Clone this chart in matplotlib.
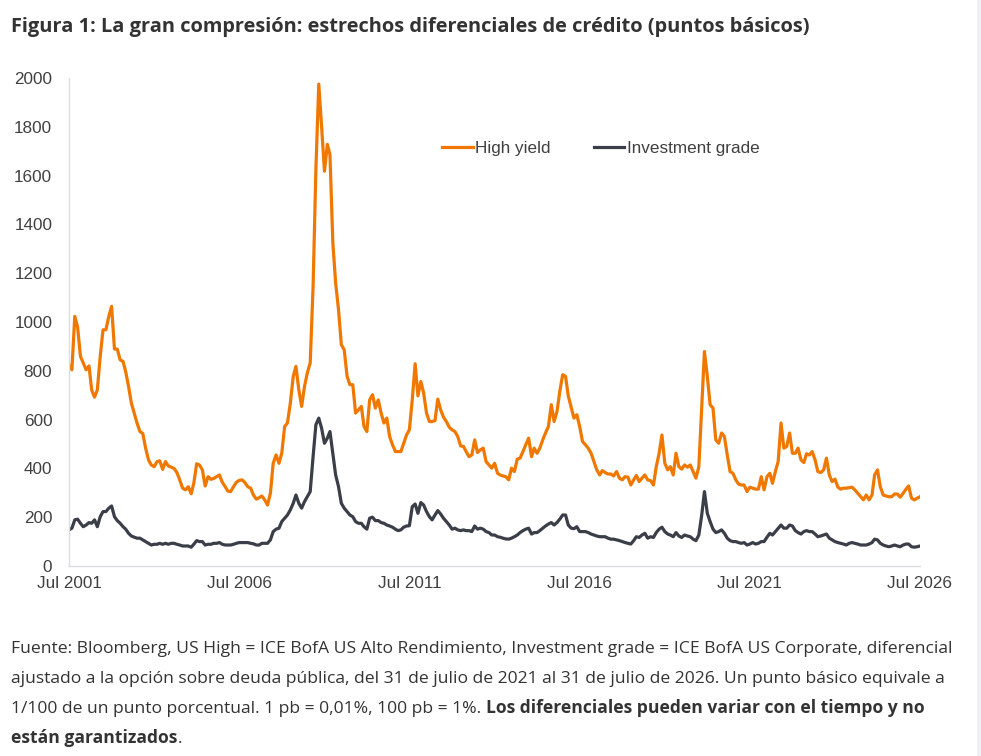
import numpy as np
import matplotlib
matplotlib.use("Agg")
import matplotlib.pyplot as plt
import matplotlib.dates as mdates
from matplotlib.patches import Rectangle

# Monthly spreads in basis points, Jul 2001 .. Jul 2026
fechas = np.arange("2001-07", "2026-08", dtype="datetime64[M]")

high_yield = [
    825, 804, 1023, 980, 859, 832, 804, 820, 722, 692, 722, 859,
    968, 968, 1023, 1064, 889, 889, 845, 838, 797, 736, 668, 627,
    586, 551, 543, 483, 435, 414, 407, 428, 431, 396, 428, 410,
    405, 400, 383, 353, 319, 312, 325, 296, 339, 419, 414, 394,
    328, 366, 355, 359, 366, 373, 343, 325, 307, 305, 325, 343,
    351, 353, 342, 325, 319, 291, 274, 280, 287, 271, 250, 298,
    421, 455, 421, 462, 572, 586, 668, 777, 818, 722, 654, 736,
    791, 832, 1146, 1625, 1975, 1803, 1618, 1728, 1686, 1324, 1160, 1050,
    907, 886, 777, 743, 743, 627, 640, 654, 572, 551, 681, 702,
    647, 681, 627, 586, 606, 531, 497, 469, 469, 469, 503, 537,
    558, 681, 829, 697, 756, 709, 627, 592, 592, 596, 684, 640,
    610, 592, 569, 558, 551, 531, 492, 490, 469, 448, 455, 517,
    465, 476, 483, 428, 414, 401, 421, 380, 373, 369, 366, 353,
    401, 387, 438, 442, 469, 497, 524, 448, 483, 462, 483, 517,
    545, 572, 661, 592, 633, 715, 784, 777, 697, 650, 606, 620,
    572, 510, 497, 483, 462, 428, 394, 373, 391, 383, 377, 377,
    369, 387, 360, 353, 366, 364, 332, 353, 371, 346, 360, 373,
    353, 350, 332, 407, 462, 537, 421, 394, 407, 373, 462, 407,
    397, 414, 405, 414, 387, 360, 407, 654, 879, 777, 661, 647,
    517, 503, 545, 531, 455, 387, 380, 353, 336, 332, 332, 305,
    323, 319, 315, 315, 366, 312, 366, 380, 339, 387, 428, 586,
    483, 490, 545, 462, 462, 483, 435, 424, 460, 455, 469, 435,
    387, 383, 394, 442, 373, 346, 356, 323, 315, 319, 319, 321,
    323, 312, 298, 284, 271, 291, 271, 291, 373, 394, 325, 291,
    287, 284, 284, 295, 295, 282, 298, 315, 328, 278, 271, 278,
    284,
]

investment_grade = [
    148, 155, 189, 192, 175, 161, 168, 178, 175, 189, 161, 202,
    223, 223, 237, 246, 202, 186, 175, 161, 151, 134, 123, 118,
    114, 114, 107, 100, 93, 86, 89, 89, 93, 89, 93, 89,
    93, 93, 89, 86, 82, 82, 82, 77, 89, 104, 100, 100,
    86, 89, 89, 93, 93, 96, 89, 86, 86, 86, 89, 93,
    96, 96, 96, 96, 93, 91, 86, 86, 93, 93, 93, 107,
    141, 151, 155, 182, 196, 209, 230, 257, 291, 257, 237, 264,
    284, 305, 448, 579, 606, 565, 503, 524, 551, 462, 373, 325,
    257, 237, 223, 209, 202, 182, 175, 175, 161, 151, 196, 200,
    186, 186, 178, 175, 168, 164, 159, 151, 145, 148, 159, 164,
    165, 243, 254, 216, 260, 250, 223, 202, 189, 209, 227, 213,
    196, 182, 168, 151, 155, 148, 145, 148, 145, 145, 141, 164,
    151, 155, 151, 141, 137, 127, 127, 120, 118, 114, 111, 110,
    114, 120, 127, 137, 145, 151, 155, 131, 137, 137, 145, 155,
    164, 172, 178, 168, 178, 192, 209, 209, 168, 155, 153, 161,
    141, 141, 141, 137, 131, 127, 123, 120, 120, 120, 114, 110,
    110, 107, 104, 100, 96, 93, 90, 104, 120, 117, 127, 134,
    114, 120, 117, 137, 151, 159, 141, 131, 127, 120, 137, 123,
    117, 127, 123, 120, 110, 104, 127, 209, 305, 216, 182, 151,
    137, 141, 148, 134, 114, 104, 100, 100, 96, 93, 96, 86,
    90, 96, 90, 93, 100, 100, 118, 134, 127, 141, 155, 168,
    155, 155, 168, 164, 145, 137, 131, 141, 145, 141, 141, 131,
    120, 123, 127, 131, 114, 107, 100, 96, 93, 90, 86, 93,
    96, 93, 90, 86, 86, 86, 90, 96, 110, 107, 93, 86,
    82, 79, 82, 86, 82, 79, 86, 90, 90, 79, 77, 79,
    82,
]

y_ticks = [0, 200, 400, 600, 800, 1000, 1200, 1400, 1600, 1800, 2000]

titulo = "Figura 1: La gran compresión: estrechos diferenciales de crédito (puntos básicos)"
nota_lineas = [
    "Fuente: Bloomberg, US High = ICE BofA US Alto Rendimiento, Investment grade = ICE BofA US Corporate, diferencial",
    "ajustado a la opción sobre deuda pública, del 31 de julio de 2021 al 31 de julio de 2026. Un punto básico equivale a",
]
nota_l3_normal = "1/100 de un punto porcentual. 1 pb = 0,01%, 100 pb = 1%. "
nota_l3_bold = "Los diferenciales pueden variar con el tiempo y no"
nota_l4_bold = "están garantizados"
nota_l4_normal = "."

NARANJA = "#f07800"
GRIS_OSCURO = "#3a3e48"
TEXTO = "#404040"
NOTA = "#333333"
TAM_NOTA = 12.6

W, H = 981, 756
fig = plt.figure(figsize=(W / 100, H / 100), dpi=100, facecolor="white")

# axes placed by pixel measurements of the reference
izq, der, arriba, abajo = 69, 920, 78, 566
ax = fig.add_axes([izq / W, 1 - abajo / H, (der - izq) / W, (abajo - arriba) / H])

ax.plot(fechas, high_yield, color=NARANJA, lw=2.3, label="High yield", solid_joinstyle="round")
ax.plot(fechas, investment_grade, color=GRIS_OSCURO, lw=2.3, label="Investment grade", solid_joinstyle="round")

ax.set_ylim(0, 2000)
ax.set_yticks(y_ticks)
ax.set_xlim(fechas[0], fechas[-1])
ax.set_xticks(fechas[::60])
ax.xaxis.set_major_formatter(mdates.DateFormatter("%b %Y"))

for lbl in ax.get_xticklabels() + ax.get_yticklabels():
    lbl.set_family("Liberation Sans")
    lbl.set_fontsize(12.3)
    lbl.set_color(TEXTO)
ax.tick_params(axis="both", length=0)
ax.tick_params(axis="y", pad=12)
ax.tick_params(axis="x", pad=7)

for lado in ["top", "right"]:
    ax.spines[lado].set_visible(False)
ax.spines["left"].set_color("#dcdce4")
ax.spines["bottom"].set_color("#dcdce4")
ax.spines["left"].set_linewidth(1.0)
ax.spines["bottom"].set_linewidth(1.0)

leg = ax.legend(loc="center left", bbox_to_anchor=((442 - izq) / (der - izq), (abajo - 148) / (abajo - arriba)),
                ncol=2, frameon=False, borderpad=0, borderaxespad=0,
                handlelength=1.8, handletextpad=0.15, columnspacing=2.5,
                prop={"family": "Liberation Sans", "size": 12.3})
for t in leg.get_texts():
    t.set_color(TEXTO)

fig.text(11 / W, 1 - 32 / H, titulo, fontsize=14.4, fontweight="bold", family="Open Sans",
         color="#333333", ha="left", va="baseline")

# footnote lines
base_y = [653, 683, 713, 743]
for i, linea in enumerate(nota_lineas):
    fig.text(11 / W, 1 - base_y[i] / H, linea, fontsize=TAM_NOTA, family="Open Sans",
             color=NOTA, ha="left", va="baseline")

fig.canvas.draw()
rend = fig.canvas.get_renderer()

t3 = fig.text(11 / W, 1 - base_y[2] / H, nota_l3_normal, fontsize=TAM_NOTA, family="Open Sans",
              color=NOTA, ha="left", va="baseline")
ancho3 = t3.get_window_extent(renderer=rend).width
fig.text((11 + ancho3) / W, 1 - base_y[2] / H, nota_l3_bold, fontsize=TAM_NOTA, family="Open Sans",
         fontweight="bold", color=NOTA, ha="left", va="baseline")

t4 = fig.text(11 / W, 1 - base_y[3] / H, nota_l4_bold, fontsize=TAM_NOTA, family="Open Sans",
              fontweight="bold", color=NOTA, ha="left", va="baseline")
ancho4 = t4.get_window_extent(renderer=rend).width
fig.text((11 + ancho4) / W, 1 - base_y[3] / H, nota_l4_normal, fontsize=TAM_NOTA, family="Open Sans",
         color=NOTA, ha="left", va="baseline")

# light page border at the right edge
fig.patches.append(Rectangle((977 / W, 0), 4 / W, 1, transform=fig.transFigure,
                             facecolor="#eef0f3", edgecolor="none"))

fig.savefig("out.png", dpi=100, facecolor="white")
